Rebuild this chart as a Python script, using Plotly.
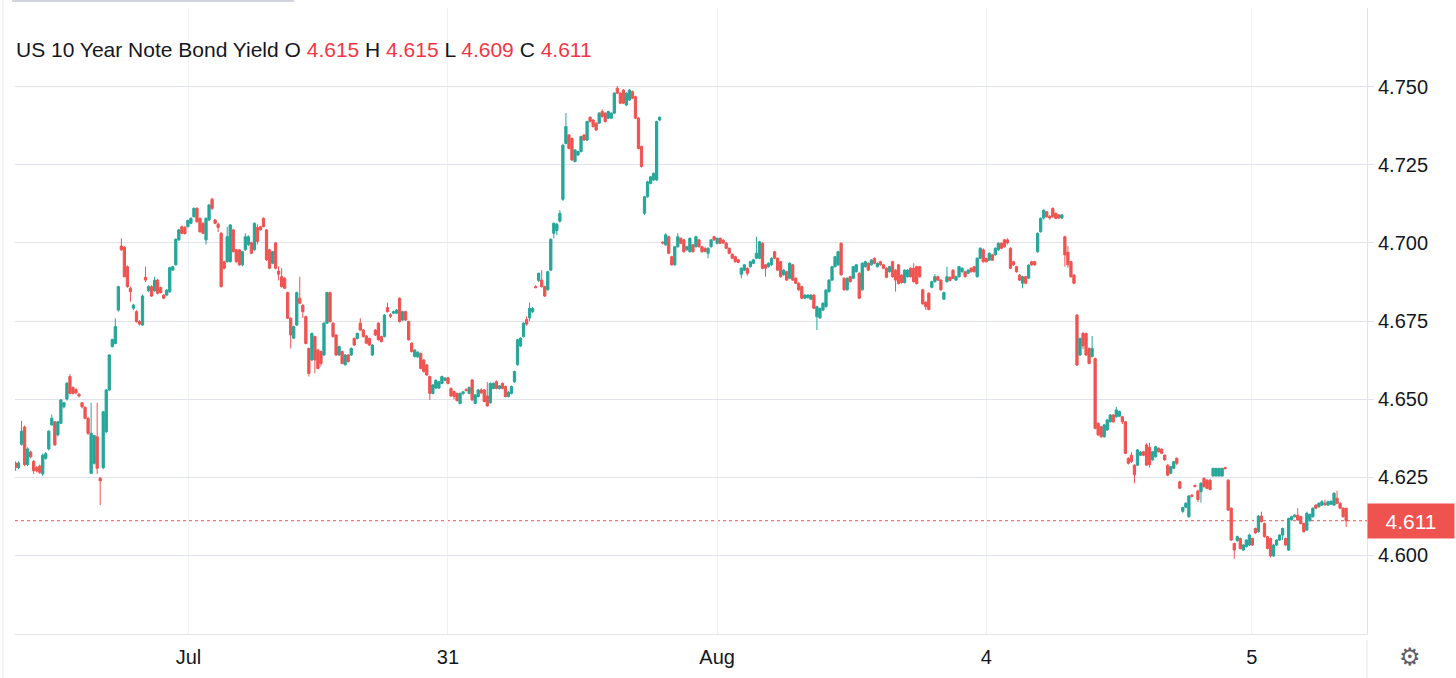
import plotly.graph_objects as go

# US 10Y yield, 15-minute bars (bar index = time slot)
opens = [
    4.6295, 4.628, 4.6355, 4.641, 4.629, 4.633, 4.630, 4.628, 4.6285, 4.626,
    4.631, 4.634, 4.6417, 4.6427, 4.6385, 4.6422, 4.6475, 4.650, 4.6572, 4.6537,
    4.653, 4.6515, 4.6488, 4.6473, 4.6438, 4.6262, 4.6294, 4.6379, 4.6246, 4.628,
    4.6395, 4.6529, 4.6668, 4.6678, 4.6785, 4.699, 4.6986, 4.6924, 4.6855, 4.6791,
    4.678, 4.6748, 4.6737, 4.689, 4.6847, 4.686, 4.6847, 4.6881, 4.6857, 4.6833,
    4.6833, 4.6844, 4.6913, 4.693, 4.701, 4.7052, 4.705, 4.7052, 4.7063, 4.7084,
    4.7111, 4.7079, 4.7063, 4.701, 4.7074, 4.714, 4.7074, 4.706, 4.7031, 4.694,
    4.694, 4.694, 4.7042, 4.6978, 4.6978, 4.693, 4.6978, 4.6995, 4.7001, 4.6978,
    4.705, 4.7052, 4.7079, 4.7042, 4.6978, 4.6935, 4.700, 4.691, 4.6892, 4.6887,
    4.6841, 4.6759, 4.6695, 4.6737, 4.6823, 4.680, 4.6764, 4.6662, 4.6625, 4.670,
    4.6657, 4.6652, 4.6641, 4.6743, 4.6841, 4.6743, 4.6705, 4.6641, 4.6652, 4.661,
    4.6641, 4.6641, 4.6694, 4.6694, 4.6743, 4.6721, 4.6702, 4.6694, 4.6641, 4.6721,
    4.6743, 4.670, 4.670, 4.6793, 4.677, 4.6775, 4.6775, 4.6823, 4.6753, 4.678,
    4.6748, 4.6679, 4.6636, 4.6635, 4.6646, 4.6625, 4.6609, 4.6572, 4.6518, 4.6535,
    4.6535, 4.655, 4.656, 4.6568, 4.6534, 4.6524, 4.6518, 4.6486, 4.6518, 4.653,
    4.6518, 4.6561, 4.6486, 4.6508, 4.6529, 4.6529, 4.651, 4.6488, 4.6534, 4.6555,
    4.6534, 4.655, 4.654, 4.6508,
    4.6518, 4.6555, 4.661, 4.667, 4.670, 4.6755, 4.676, 4.678, 4.686, 4.688,
    4.6881, 4.686, 4.685, 4.6913, 4.7031, 4.704, 4.707, 4.714, 4.7319, 4.7346,
    4.7335, 4.7261, 4.7282, 4.7293, 4.7346, 4.733, 4.7403, 4.7394, 4.7384, 4.7384,
    4.7421, 4.7416, 4.740, 4.740, 4.7416, 4.7496, 4.748, 4.749, 4.7442, 4.7458,
    4.7485, 4.7469, 4.740, 4.7309, 4.7095, 4.7148, 4.7191, 4.7202, 4.7202, 4.7394,
    4.7003, 4.6994, 4.702, 4.6956, 4.693, 4.6988, 4.7015, 4.701, 4.6978, 4.6972,
    4.6994, 4.6988, 4.701, 4.6988, 4.6983, 4.6967, 4.6988, 4.702, 4.6999, 4.7015,
    4.7009, 4.700, 4.6983, 4.6964, 4.6956, 4.6946, 4.690, 4.6913, 4.6919, 4.6924,
    4.6935, 4.6951, 4.6951, 4.6999, 4.693, 4.6924, 4.693, 4.6972, 4.6951, 4.694,
    4.6898, 4.6908, 4.6887, 4.693, 4.6887, 4.6871, 4.686, 4.6823, 4.6825, 4.682,
    4.6833, 4.6764, 4.676, 4.6785, 4.6796, 4.6844, 4.6881, 4.6924, 4.693, 4.6999,
    4.6887, 4.685, 4.6892, 4.6887, 4.6908, 4.6903, 4.685, 4.6924, 4.6935, 4.693,
    4.6951, 4.6924, 4.694, 4.693, 4.6919, 4.6908, 4.694, 4.6913, 4.693, 4.6897,
    4.6873, 4.6892, 4.6919, 4.6919, 4.6924, 4.6924, 4.685, 4.681, 4.6839, 4.6858,
    4.6876, 4.6892, 4.6881, 4.682, 4.6876, 4.689, 4.6913, 4.6881, 4.6892, 4.6908,
    4.6908, 4.6903, 4.6919, 4.6924, 4.6892, 4.6951, 4.6978, 4.695, 4.6945, 4.6962,
    4.6962, 4.6978, 4.6999, 4.701, 4.701, 4.6983, 4.694, 4.6924, 4.6897, 4.6871,
    4.6892, 4.6887, 4.694, 4.694, 4.6972, 4.7036, 4.708, 4.710, 4.7085, 4.7111,
    4.7095, 4.709, 4.708, 4.702, 4.697, 4.694, 4.6897, 4.6769, 4.6641, 4.671,
    4.671, 4.6662, 4.6636, 4.663, 4.6422, 4.6411, 4.6379, 4.6401, 4.6427, 4.6449,
    4.6443, 4.6445, 4.6443, 4.6427, 4.631, 4.632, 4.6288, 4.6288, 4.632, 4.6331,
    4.6353, 4.6345, 4.6305, 4.6315, 4.6342, 4.6339, 4.632, 4.6288, 4.6262, 4.6278,
    4.631, 4.6235, 4.614, 4.6153, 4.6123, 4.6192, 4.6223, 4.6205, 4.6203, 4.6246,
    4.624, 4.624, 4.6253, 4.6253, 4.6253, 4.6253, 4.628, 4.624, 4.615, 4.6037,
    4.6046, 4.6053, 4.6016, 4.6027, 4.6032, 4.6053, 4.6085, 4.6075, 4.6125, 4.6101,
    4.6059, 4.6053, 4.5997, 4.6032, 4.6048, 4.6064, 4.6053, 4.6016, 4.6113, 4.6123,
    4.6128, 4.6123, 4.6101, 4.608, 4.611, 4.6123, 4.616, 4.6155, 4.616, 4.6166,
    4.616, 4.6163, 4.616, 4.6182, 4.6166, 4.615, 4.615,
]

highs = [
    4.630, 4.630, 4.643, 4.6415, 4.6345, 4.6335, 4.6305, 4.6285, 4.629, 4.6325,
    4.633, 4.640, 4.645, 4.643, 4.643, 4.650, 4.649, 4.6555, 4.658, 4.654,
    4.6535, 4.652, 4.649, 4.6478, 4.6442, 4.6488, 4.6385, 4.6488, 4.625, 4.6462,
    4.6532, 4.6643, 4.6693, 4.6759, 4.6863, 4.7015, 4.699, 4.6928, 4.686, 4.6805,
    4.6785, 4.6753, 4.6835, 4.6924, 4.6865, 4.6865, 4.6892, 4.6885, 4.686, 4.6836,
    4.6852, 4.6924, 4.6927, 4.7015, 4.7045, 4.7056, 4.7055, 4.7075, 4.7082, 4.7114,
    4.7115, 4.7082, 4.7066, 4.7082, 4.7125, 4.7145, 4.7077, 4.7065, 4.7035, 4.6943,
    4.7052, 4.706, 4.7045, 4.6981, 4.6981, 4.6975, 4.7031, 4.7025, 4.7004, 4.7066,
    4.706, 4.7055, 4.7082, 4.7045, 4.6981, 4.6975, 4.7003, 4.6925, 4.6919, 4.689,
    4.6844, 4.6762, 4.6735, 4.6844, 4.6892, 4.6805, 4.6767, 4.6665, 4.6713, 4.6703,
    4.666, 4.6655, 4.6746, 4.6844, 4.6844, 4.6746, 4.6708, 4.6671, 4.6655, 4.6644,
    4.6644, 4.6665, 4.6697, 4.6713, 4.6759, 4.6724, 4.6705, 4.6697, 4.6676, 4.6724,
    4.6746, 4.6703, 4.6772, 4.6809, 4.6775, 4.6783, 4.6788, 4.6826, 4.6783, 4.6783,
    4.6751, 4.6682, 4.666, 4.6653, 4.6649, 4.6628, 4.6612, 4.6575, 4.6548, 4.6563,
    4.6558, 4.6575, 4.657, 4.6571, 4.6537, 4.6527, 4.6521, 4.6521, 4.6526, 4.6535,
    4.654, 4.6564, 4.6516, 4.6532, 4.6535, 4.6532, 4.6554, 4.6553, 4.6553, 4.656,
    4.6545, 4.6553, 4.6543, 4.6525,
    4.6543, 4.6591, 4.6693, 4.6698, 4.6746, 4.6765, 4.681, 4.6795, 4.6865, 4.6905,
    4.6913, 4.6863, 4.6911, 4.7015, 4.7066, 4.7065, 4.7105, 4.7318, 4.7416, 4.7349,
    4.7338, 4.7301, 4.7296, 4.7344, 4.7349, 4.7392, 4.7406, 4.7397, 4.7387, 4.7419,
    4.7428, 4.7419, 4.7424, 4.7419, 4.7483, 4.7503, 4.7483, 4.7493, 4.7483, 4.7493,
    4.7488, 4.7472, 4.7403, 4.7312, 4.7151, 4.7199, 4.7215, 4.7226, 4.7392, 4.7405,
    4.7005, 4.7031, 4.7023, 4.6959, 4.6991, 4.7031, 4.7018, 4.7013, 4.6991, 4.7018,
    4.6997, 4.7023, 4.7013, 4.6991, 4.6986, 4.6986, 4.7013, 4.7023, 4.7018, 4.7018,
    4.7012, 4.7003, 4.6986, 4.6967, 4.6959, 4.6949, 4.6922, 4.6933, 4.6922, 4.6943,
    4.6949, 4.702, 4.7007, 4.7002, 4.6933, 4.6938, 4.6954, 4.6975, 4.6954, 4.6943,
    4.6916, 4.6911, 4.6938, 4.6933, 4.689, 4.6874, 4.6863, 4.6836, 4.6836, 4.6836,
    4.6836, 4.6799, 4.6793, 4.681, 4.6852, 4.6884, 4.6927, 4.6959, 4.6975, 4.7002,
    4.689, 4.689, 4.6895, 4.6927, 4.6933, 4.6906, 4.6938, 4.6943, 4.6938, 4.6948,
    4.6954, 4.6938, 4.6943, 4.6933, 4.6922, 4.6927, 4.6943, 4.6916, 4.6933, 4.690,
    4.6916, 4.6916, 4.6922, 4.6935, 4.6927, 4.6927, 4.6853, 4.6813, 4.6842, 4.6879,
    4.690, 4.6895, 4.6884, 4.6844, 4.6924, 4.6893, 4.6916, 4.6895, 4.6927, 4.6922,
    4.6911, 4.6916, 4.6922, 4.6927, 4.6954, 4.6986, 4.6983, 4.6953, 4.697, 4.6965,
    4.6986, 4.7002, 4.7002, 4.7013, 4.7015, 4.6986, 4.6943, 4.6927, 4.690, 4.6895,
    4.6895, 4.6932, 4.6943, 4.6943, 4.7034, 4.7082, 4.7108, 4.7103, 4.709, 4.7114,
    4.7098, 4.7093, 4.7093, 4.7023, 4.699, 4.6943, 4.690, 4.6772, 4.6697, 4.6715,
    4.6713, 4.6665, 4.6702, 4.6633, 4.6425, 4.6414, 4.642, 4.6436, 4.6452, 4.6452,
    4.6475, 4.6463, 4.6446, 4.643, 4.6313, 4.633, 4.6291, 4.634, 4.6333, 4.6334,
    4.6358, 4.636, 4.6334, 4.635, 4.6345, 4.6342, 4.6323, 4.6291, 4.6286, 4.6302,
    4.6313, 4.6238, 4.6155, 4.6169, 4.6192, 4.6195, 4.6226, 4.621, 4.6233, 4.6249,
    4.6243, 4.6243, 4.6278, 4.6278, 4.6278, 4.6278, 4.6283, 4.6243, 4.6153, 4.604,
    4.6062, 4.6056, 4.6035, 4.6051, 4.6069, 4.6056, 4.6088, 4.6128, 4.6139, 4.6104,
    4.6062, 4.6056, 4.6035, 4.6051, 4.6067, 4.6088, 4.6056, 4.612, 4.6126, 4.6131,
    4.615, 4.6126, 4.6104, 4.6139, 4.6133, 4.6153, 4.6163, 4.6169, 4.6176, 4.6178,
    4.6174, 4.6175, 4.6201, 4.6206, 4.6169, 4.6153, 4.615,
]

lows = [
    4.627, 4.6275, 4.635, 4.6285, 4.6285, 4.631, 4.626, 4.6265, 4.626, 4.6253,
    4.6305, 4.6335, 4.6415, 4.635, 4.638, 4.642, 4.647, 4.6495, 4.6515, 4.6515,
    4.6515, 4.6505, 4.647, 4.6435, 4.6385, 4.626, 4.629, 4.626, 4.616, 4.6275,
    4.639, 4.6525, 4.6665, 4.6675, 4.678, 4.6975, 4.689, 4.6857, 4.6812, 4.6785,
    4.6745, 4.6735, 4.6735, 4.6875, 4.6842, 4.6827, 4.6843, 4.6835, 4.6838, 4.682,
    4.683, 4.684, 4.691, 4.6927, 4.7007, 4.7028, 4.7027, 4.705, 4.706, 4.7082,
    4.7065, 4.7033, 4.7028, 4.6995, 4.707, 4.7105, 4.706, 4.7035, 4.6858, 4.6915,
    4.6937, 4.6937, 4.697, 4.6937, 4.6927, 4.6925, 4.6975, 4.699, 4.6964, 4.6975,
    4.6995, 4.704, 4.705, 4.6943, 4.6916, 4.6932, 4.6916, 4.688, 4.6857, 4.6852,
    4.6756, 4.6662, 4.6692, 4.6734, 4.6804, 4.676, 4.6675, 4.6572, 4.6622, 4.6582,
    4.6595, 4.6604, 4.6638, 4.674, 4.6745, 4.6697, 4.6638, 4.6638, 4.6611, 4.6607,
    4.6617, 4.6638, 4.667, 4.6691, 4.6718, 4.6697, 4.6676, 4.667, 4.6638, 4.6702,
    4.6687, 4.6681, 4.6697, 4.6777, 4.676, 4.6772, 4.6772, 4.6745, 4.675, 4.675,
    4.6687, 4.6649, 4.6633, 4.6632, 4.6595, 4.6585, 4.6574, 4.6497, 4.6515, 4.6532,
    4.6532, 4.6547, 4.6557, 4.6547, 4.6507, 4.6499, 4.6492, 4.6483, 4.6512, 4.6525,
    4.6515, 4.6494, 4.6483, 4.6505, 4.6515, 4.6489, 4.6475, 4.6485, 4.6531, 4.6531,
    4.653, 4.6531, 4.6505, 4.6505,
    4.6515, 4.6552, 4.6607, 4.6667, 4.6697, 4.6735, 4.675, 4.6775, 4.6855, 4.6875,
    4.6857, 4.6827, 4.6847, 4.691, 4.7015, 4.7025, 4.7065, 4.7135, 4.7316, 4.730,
    4.7263, 4.7258, 4.7279, 4.729, 4.7327, 4.7327, 4.7386, 4.737, 4.7359, 4.7381,
    4.7402, 4.7386, 4.7397, 4.7397, 4.7413, 4.7477, 4.7445, 4.7445, 4.7439, 4.7455,
    4.7461, 4.7397, 4.730, 4.7242, 4.709, 4.7145, 4.7188, 4.7199, 4.7199, 4.739,
    4.6995, 4.6991, 4.6964, 4.6927, 4.6927, 4.6985, 4.6996, 4.6969, 4.6975, 4.6969,
    4.6969, 4.6985, 4.6985, 4.6969, 4.697, 4.6951, 4.6985, 4.7007, 4.6996, 4.6996,
    4.6997, 4.698, 4.6964, 4.6948, 4.6937, 4.6935, 4.6887, 4.691, 4.6895, 4.6921,
    4.6932, 4.6948, 4.6948, 4.6916, 4.6892, 4.6921, 4.6927, 4.6948, 4.691, 4.6889,
    4.6895, 4.6878, 4.6884, 4.6878, 4.6868, 4.6847, 4.682, 4.682, 4.6822, 4.6817,
    4.6788, 4.6721, 4.6757, 4.6782, 4.6793, 4.6841, 4.6878, 4.6921, 4.6927, 4.6895,
    4.6847, 4.6847, 4.6873, 4.6884, 4.6905, 4.682, 4.6847, 4.6921, 4.691, 4.6927,
    4.6932, 4.6921, 4.6927, 4.6916, 4.6887, 4.6905, 4.6889, 4.6844, 4.6867, 4.687,
    4.687, 4.6889, 4.6889, 4.6873, 4.6867, 4.6889, 4.6802, 4.6785, 4.6784, 4.6855,
    4.6873, 4.6878, 4.6847, 4.6817, 4.6873, 4.6877, 4.6884, 4.6878, 4.6889, 4.6905,
    4.6889, 4.690, 4.6905, 4.6905, 4.6889, 4.6948, 4.6937, 4.6937, 4.6942, 4.6942,
    4.6959, 4.6975, 4.698, 4.6985, 4.6995, 4.6916, 4.6927, 4.6905, 4.6878, 4.6855,
    4.6868, 4.6884, 4.6927, 4.6927, 4.6969, 4.7033, 4.7075, 4.7081, 4.7075, 4.7081,
    4.7076, 4.7077, 4.7077, 4.6924, 4.692, 4.6889, 4.6868, 4.6606, 4.6638, 4.666,
    4.6638, 4.6611, 4.6633, 4.6403, 4.6382, 4.6376, 4.6376, 4.6398, 4.6424, 4.6424,
    4.644, 4.6442, 4.642, 4.6323, 4.629, 4.6295, 4.623, 4.6285, 4.6317, 4.6317,
    4.6285, 4.628, 4.6302, 4.6312, 4.6328, 4.6323, 4.6302, 4.6253, 4.6259, 4.6275,
    4.6288, 4.6211, 4.6135, 4.615, 4.612, 4.6185, 4.6217, 4.617, 4.6168, 4.6216,
    4.6211, 4.6207, 4.6253, 4.6253, 4.6253, 4.6253, 4.6275, 4.6141, 4.6046, 4.5988,
    4.6043, 4.6018, 4.6013, 4.6024, 4.6029, 4.6029, 4.6068, 4.6072, 4.6104, 4.6056,
    4.6018, 4.5992, 4.5994, 4.6029, 4.6045, 4.6048, 4.603, 4.6013, 4.611, 4.612,
    4.611, 4.6098, 4.6072, 4.6077, 4.6107, 4.612, 4.6147, 4.6152, 4.6157, 4.6158,
    4.6157, 4.616, 4.6157, 4.6163, 4.6147, 4.612, 4.609,
]

closes = [
    4.628, 4.6295, 4.6397, 4.629, 4.634, 4.6315, 4.627, 4.627, 4.6265, 4.632,
    4.6325, 4.6397, 4.6438, 4.6353, 4.6427, 4.6497, 4.6488, 4.655, 4.6518, 4.6518,
    4.652, 4.651, 4.6475, 4.6438, 4.639, 4.639, 4.6383, 4.6278, 4.6238, 4.6459,
    4.6529, 4.6641, 4.6691, 4.6732, 4.686, 4.6978, 4.6892, 4.686, 4.6844, 4.6801,
    4.6748, 4.674, 4.683, 4.6881, 4.686, 4.683, 4.6881, 4.6839, 4.6841, 4.6823,
    4.6849, 4.6921, 4.6924, 4.7012, 4.7042, 4.7031, 4.703, 4.7072, 4.7079, 4.7111,
    4.7068, 4.7036, 4.7031, 4.7079, 4.7122, 4.7111, 4.7063, 4.705, 4.686, 4.6919,
    4.702, 4.7058, 4.6972, 4.694, 4.693, 4.6972, 4.702, 4.702, 4.6967, 4.7063,
    4.7005, 4.7042, 4.7052, 4.6946, 4.6919, 4.6972, 4.6919, 4.690, 4.686, 4.6855,
    4.6759, 4.6705, 4.6732, 4.6841, 4.6807, 4.678, 4.6678, 4.6582, 4.671, 4.6625,
    4.6598, 4.6614, 4.6743, 4.6841, 4.6748, 4.670, 4.6641, 4.6668, 4.6614, 4.6641,
    4.662, 4.6662, 4.6673, 4.671, 4.6721, 4.670, 4.6679, 4.6673, 4.6673, 4.6705,
    4.669, 4.6684, 4.6769, 4.678, 4.6765, 4.678, 4.6785, 4.6748, 4.678, 4.6753,
    4.669, 4.6652, 4.6657, 4.665, 4.6598, 4.6588, 4.6577, 4.6518, 4.6545, 4.656,
    4.6555, 4.6572, 4.6567, 4.655, 4.651, 4.6508, 4.6495, 4.6518, 4.6523, 4.6527,
    4.6537, 4.6497, 4.6513, 4.6529, 4.652, 4.6492, 4.6478, 4.655, 4.655, 4.6534,
    4.6542, 4.6534, 4.6508, 4.6522,
    4.654, 4.6588, 4.669, 4.6695, 4.6743, 4.674, 4.679, 4.679, 4.6857, 4.6903,
    4.686, 4.683, 4.6908, 4.7012, 4.7063, 4.706, 4.7095, 4.7313, 4.7373, 4.7303,
    4.7266, 4.7298, 4.7293, 4.7341, 4.733, 4.7389, 4.7389, 4.7373, 4.7362, 4.7416,
    4.7405, 4.7389, 4.7421, 4.7416, 4.748, 4.748, 4.7448, 4.7448, 4.748, 4.749,
    4.7464, 4.740, 4.7303, 4.7245, 4.7148, 4.7196, 4.7212, 4.7223, 4.7389, 4.7403,
    4.700, 4.7026, 4.6967, 4.693, 4.6988, 4.702, 4.6999, 4.6972, 4.6988, 4.7015,
    4.6972, 4.702, 4.6988, 4.6972, 4.6973, 4.6983, 4.701, 4.701, 4.7015, 4.6999,
    4.700, 4.6983, 4.6967, 4.6951, 4.694, 4.6938, 4.6919, 4.693, 4.6903, 4.694,
    4.6946, 4.6967, 4.7004, 4.6919, 4.6919, 4.6935, 4.6951, 4.6951, 4.6913, 4.6892,
    4.6913, 4.6881, 4.6935, 4.6881, 4.6871, 4.685, 4.6823, 4.6833, 4.6833, 4.6833,
    4.6791, 4.6796, 4.679, 4.6807, 4.6849, 4.6881, 4.6924, 4.6956, 4.6972, 4.6898,
    4.685, 4.6887, 4.6876, 4.6924, 4.693, 4.6823, 4.6935, 4.694, 4.6913, 4.6945,
    4.6935, 4.6935, 4.693, 4.6919, 4.689, 4.6924, 4.6892, 4.6881, 4.687, 4.6873,
    4.6913, 4.6913, 4.6892, 4.6876, 4.687, 4.6892, 4.6805, 4.6796, 4.6787, 4.6876,
    4.6892, 4.6881, 4.685, 4.6841, 4.6892, 4.688, 4.6887, 4.6892, 4.6924, 4.6919,
    4.6892, 4.6913, 4.6908, 4.6908, 4.6951, 4.6983, 4.694, 4.694, 4.6967, 4.6945,
    4.6983, 4.6999, 4.6983, 4.6988, 4.700, 4.6919, 4.693, 4.6908, 4.6881, 4.6892,
    4.6871, 4.6929, 4.693, 4.693, 4.7031, 4.7079, 4.7105, 4.7084, 4.708, 4.7084,
    4.7079, 4.708, 4.709, 4.6962, 4.693, 4.6892, 4.6871, 4.6609, 4.6694, 4.667,
    4.6641, 4.6614, 4.6662, 4.6406, 4.6385, 4.6379, 4.6417, 4.6433, 4.6449, 4.6427,
    4.6465, 4.646, 4.6427, 4.6326, 4.6294, 4.630, 4.6257, 4.6337, 4.633, 4.632,
    4.6288, 4.629, 4.6331, 4.6347, 4.6331, 4.6326, 4.6305, 4.6256, 4.6283, 4.6299,
    4.6294, 4.6214, 4.6152, 4.6166, 4.6189, 4.6188, 4.622, 4.6178, 4.623, 4.6219,
    4.6214, 4.621, 4.6278, 4.6278, 4.6278, 4.6278, 4.6277, 4.6144, 4.6048, 4.6016,
    4.6059, 4.6021, 4.6032, 4.6048, 4.6064, 4.6032, 4.6071, 4.6125, 4.6107, 4.6059,
    4.6021, 4.5997, 4.6032, 4.6048, 4.6064, 4.6085, 4.6032, 4.6117, 4.6123, 4.6128,
    4.6112, 4.6101, 4.6075, 4.6134, 4.613, 4.615, 4.615, 4.6166, 4.6171, 4.6161,
    4.6171, 4.6172, 4.6198, 4.6166, 4.615, 4.6123, 4.611,
]

bars = list(range(len(closes)))

# session boundaries (bar index) and their labels
day_ticks = [57.2, 143, 232, 321, 408.8]
day_labels = ["Jul", "31", "Aug", "4", "5"]

yield_ticks = [4.600, 4.625, 4.650, 4.675, 4.700, 4.725, 4.750]

UP = "#26a69a"
DOWN = "#ef5350"
RED_TXT = "#f23645"
FONT = "Liberation Sans, Arial, sans-serif"
GRID = "#e0e3eb"

last_o, last_h, last_l, last_c = opens[-1], highs[-1], lows[-1], closes[-1]

fig = go.Figure()
fig.add_trace(go.Candlestick(
    x=bars, open=opens, high=highs, low=lows, close=closes,
    increasing=dict(line=dict(color=UP, width=1), fillcolor=UP),
    decreasing=dict(line=dict(color=DOWN, width=1), fillcolor=DOWN),
    whiskerwidth=0,
    showlegend=False,
))

header = (
    "US 10 Year Note Bond Yield "
    f"O <span style='color:{RED_TXT}'>{last_o:.3f}</span> "
    f"H <span style='color:{RED_TXT}'>{last_h:.3f}</span> "
    f"L <span style='color:{RED_TXT}'>{last_l:.3f}</span> "
    f"C <span style='color:{RED_TXT}'>{last_c:.3f}</span>"
)

fig.update_layout(
    width=1456, height=678,
    margin=dict(l=15, r=89, t=8, b=44),
    paper_bgcolor="white", plot_bgcolor="white",
    font=dict(family=FONT, size=20, color="#131722"),
    boxgap=0.25, boxgroupgap=0,
    xaxis=dict(
        range=[-0.17, 446.9],
        tickmode="array", tickvals=day_ticks, ticktext=day_labels,
        showgrid=True, gridcolor="#eef1f5", gridwidth=1,
        showline=True, linecolor=GRID, linewidth=1,
        zeroline=False, ticks="", ticklabelstandoff=5,
        rangeslider=dict(visible=False),
    ),
    yaxis=dict(
        side="right",
        range=[4.5747, 4.7753],
        tickmode="array", tickvals=yield_ticks,
        ticktext=[f"{v:.3f}" for v in yield_ticks],
        showgrid=True, gridcolor=GRID, gridwidth=1,
        showline=True, linecolor=GRID, linewidth=1,
        ticks="outside", ticklen=6, tickcolor=GRID,
        zeroline=False,
    ),
    annotations=[
        dict(xref="paper", yref="paper", x=-0.0005, y=0.933,
             xanchor="left", yanchor="middle", showarrow=False,
             text=header, font=dict(size=21, color="#131722")),
        dict(xref="paper", yref="y", x=1, y=last_c,
             xanchor="left", yanchor="middle", showarrow=False,
             text=f"{last_c:.3f}", font=dict(size=21, color="white"),
             bgcolor=DOWN, width=86, height=34, borderpad=0, align="center"),
        dict(xref="paper", yref="paper", x=1.0318, y=-0.0367,
             xanchor="center", yanchor="middle", showarrow=False,
             text="⚙", font=dict(family="DejaVu Sans", size=24, color="#5d606b")),
    ],
    shapes=[
        dict(type="line", xref="paper", yref="y", x0=0, x1=1, y0=last_c, y1=last_c,
             line=dict(color=DOWN, width=1, dash="dot"), layer="below"),
        dict(type="line", xref="paper", yref="paper", x0=1, x1=1, y0=-0.0096, y1=-0.08,
             line=dict(color=GRID, width=1)),
        dict(type="line", xref="paper", yref="paper", x0=-0.0089, x1=-0.0089, y0=-0.08, y1=1.02,
             line=dict(color="#e9ebef", width=1)),
        dict(type="line", xref="paper", yref="paper", x0=-0.0022, x1=0.2064, y0=1.0112, y1=1.0112,
             line=dict(color="#d1d4dc", width=2)),
    ],
)

fig.write_html("out.html", config={"displayModeBar": False},
               post_script="document.body.style.margin='0';")
